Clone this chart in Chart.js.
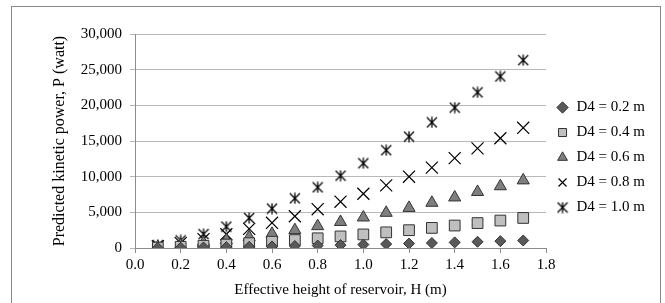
<!DOCTYPE html>
<html><head><meta charset="utf-8">
<script src="https://cdn.jsdelivr.net/npm/chart.js@4.4.1/dist/chart.umd.min.js"></script>
<style>html,body{margin:0;padding:0;background:#fff}#wrap{width:665px;height:303px;position:relative}</style>
</head><body><div id="wrap"><canvas id="c" width="665" height="303"></canvas></div>
<script>
// ---- data ----
const heights = [0.1, 0.2, 0.3, 0.4, 0.5, 0.6, 0.7, 0.8, 0.9, 1.0, 1.1, 1.2, 1.3, 1.4, 1.5, 1.6, 1.7];
const seriesLabels = ['D4 = 0.2 m', 'D4 = 0.4 m', 'D4 = 0.6 m', 'D4 = 0.8 m', 'D4 = 1.0 m'];
const powerD02 = [15, 43, 78, 120, 168, 221, 278, 340, 406, 475, 548, 625, 704, 787, 873, 962, 1053];
const powerD04 = [60, 170, 312, 481, 672, 883, 1113, 1360, 1623, 1901, 2193, 2499, 2818, 3149, 3492, 3847, 4213];
const powerD06 = [135, 383, 703, 1082, 1512, 1988, 2505, 3060, 3651, 4277, 4934, 5622, 6339, 7085, 7857, 8655, 9480];
const powerD08 = [241, 680, 1249, 1923, 2688, 3533, 4453, 5440, 6491, 7603, 8772, 9995, 11270, 12595, 13968, 15388, 16852];
const powerD10 = [376, 1063, 1952, 3005, 4200, 5521, 6958, 8501, 10143, 11880, 13706, 15617, 17609, 19679, 21825, 24043, 26332];
const xAxisTitle = 'Effective height of reservoir, H (m)';
const yAxisTitle = 'Predicted kinetic power, P (watt)';

const serif = '"Liberation Serif", "Times New Roman", serif';

// asterisk-like marker (X with a vertical bar)
function makeStar(size) {
  const c = document.createElement('canvas');
  c.width = size; c.height = size;
  const g = c.getContext('2d');
  g.strokeStyle = '#000'; g.lineWidth = 1.3;
  g.beginPath();
  g.moveTo(1, 1); g.lineTo(size - 1, size - 1);
  g.moveTo(size - 1, 1); g.lineTo(1, size - 1);
  g.moveTo(size / 2, 0.5); g.lineTo(size / 2, size - 0.5);
  g.stroke();
  return c;
}
const starMarker = makeStar(12);

const toPts = arr => arr.map((v, i) => ({x: heights[i], y: v}));

const frame = {
  id: 'frame',
  afterDraw(chart) {
    const ctx = chart.ctx;
    ctx.save();
    ctx.strokeStyle = '#8a8a8a';
    ctx.lineWidth = 1;
    ctx.strokeRect(11.5, 6.5, 649, 320);
    ctx.restore();
  }
};

new Chart(document.getElementById('c'), {
  type: 'scatter',
  data: {
    datasets: [
      {label: seriesLabels[0], data: toPts(powerD02), pointStyle: 'rectRot', pointRadius: 5.5, pointHoverRadius: 5.5,
       backgroundColor: '#595959', borderColor: '#333333', borderWidth: 1},
      {label: seriesLabels[1], data: toPts(powerD04), pointStyle: 'rect', pointRadius: 7.6, pointHoverRadius: 7.6,
       backgroundColor: '#bfbfbf', borderColor: '#333333', borderWidth: 1},
      {label: seriesLabels[2], data: toPts(powerD06), pointStyle: 'triangle', pointRadius: 7, pointHoverRadius: 7,
       backgroundColor: '#7f7f7f', borderColor: '#333333', borderWidth: 1},
      {label: seriesLabels[3], data: toPts(powerD08), pointStyle: 'crossRot', pointRadius: 8.5, pointHoverRadius: 8.5,
       backgroundColor: '#000', borderColor: '#000', borderWidth: 1.2},
      {label: seriesLabels[4], data: toPts(powerD10), pointStyle: starMarker,
       backgroundColor: '#000', borderColor: '#000', borderWidth: 1}
    ]
  },
  options: {
    responsive: false,
    animation: false,
    events: [],
    layout: {padding: {left: 0, top: 34, right: 10, bottom: 0}},
    plugins: {
      tooltip: {enabled: false},
      legend: {
        position: 'right',
        align: 'center',
        title: {display: true, text: '', padding: {top: -36.4, bottom: 0}},
        labels: {
          usePointStyle: true, boxWidth: 13, boxHeight: 8, padding: 10,
          color: '#000', font: {family: serif, size: 15}
        }
      }
    },
    scales: {
      x: {
        type: 'linear', min: 0, max: 1.8,
        afterFit(s) { s.height = 55; },
        ticks: {stepSize: 0.2, color: '#000', padding: 3, font: {family: serif, size: 15},
                callback: v => Number(v).toFixed(1)},
        grid: {display: true, drawOnChartArea: false, drawTicks: true, tickLength: 5, color: '#8c8c8c'},
        border: {display: true, color: '#8c8c8c'},
        title: {display: true, text: xAxisTitle, color: '#000', font: {family: serif, size: 15},
                padding: {top: 0, bottom: 4}}
      },
      y: {
        type: 'linear', min: 0, max: 30000,
        afterFit(s) { s.width = 135; },
        ticks: {stepSize: 5000, color: '#000', padding: 8, font: {family: serif, size: 15},
                callback: v => Number(v).toLocaleString('en-US')},
        grid: {color: '#b8b8b8', tickLength: 5, drawTicks: true},
        border: {display: true, color: '#8c8c8c'},
        title: {display: true, text: yAxisTitle, color: '#000', font: {family: serif, size: 16},
                padding: {top: 50.4, bottom: 0}}
      }
    }
  },
  plugins: [frame]
});
</script>
</body></html>
